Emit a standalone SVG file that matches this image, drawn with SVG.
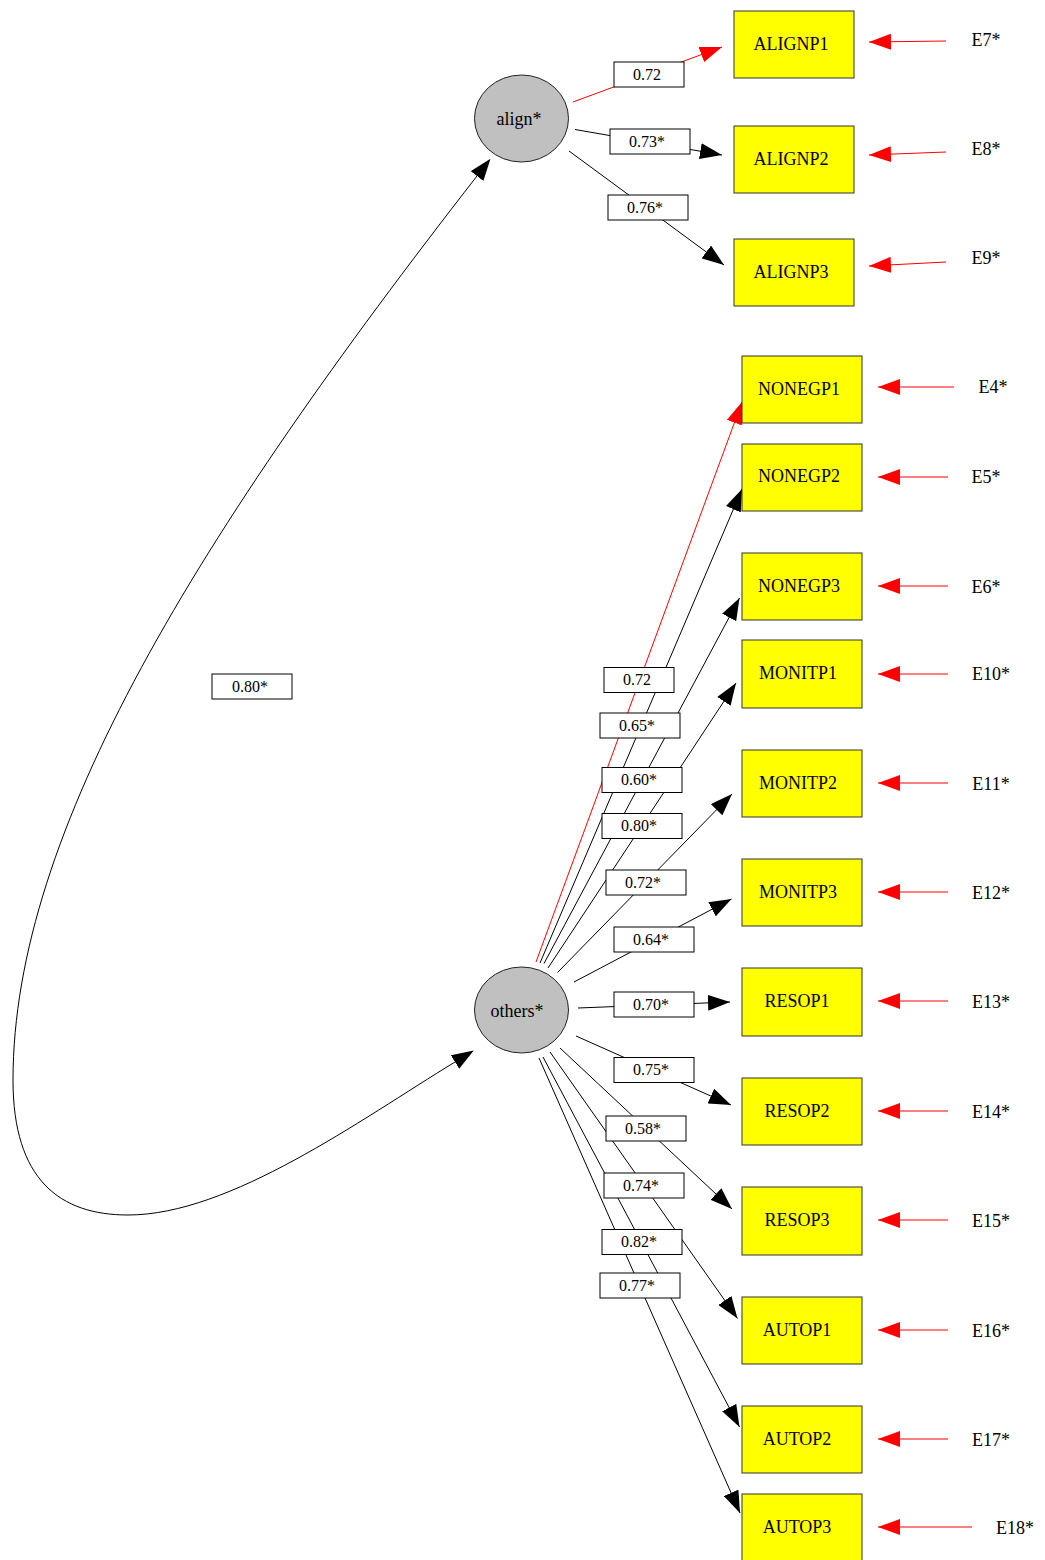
<svg xmlns="http://www.w3.org/2000/svg" width="1045" height="1560" viewBox="0 0 1045 1560">
<style>
.obs{fill:#ffff00;stroke:#333;stroke-width:1}
.lat{fill:#c0c0c0;stroke:#222;stroke-width:1}
.nt{font-family:"Liberation Serif","Times New Roman",serif;font-size:18px;fill:#000;text-anchor:middle;dominant-baseline:central}
.lb rect{fill:#fff;stroke:#000;stroke-width:1}
.lb text{font-family:"Liberation Serif","Times New Roman",serif;font-size:16px;fill:#000;text-anchor:middle;dominant-baseline:central}
.e{fill:none;stroke:#000;stroke-width:1}
.r{fill:none;stroke:#ff0000;stroke-width:1}
</style>
<defs>
<marker id="ak" markerWidth="22" markerHeight="16" refX="22" refY="8" orient="auto" markerUnits="userSpaceOnUse"><path d="M0,0 L22,8 L0,16 z" fill="#000"/></marker>
<marker id="ar" markerWidth="22" markerHeight="16" refX="22" refY="8" orient="auto" markerUnits="userSpaceOnUse"><path d="M0,0 L22,8 L0,16 z" fill="#ff0000"/></marker>
<marker id="ac" markerWidth="22" markerHeight="16" refX="0" refY="8" orient="auto-start-reverse" markerUnits="userSpaceOnUse"><path d="M0,0 L22,8 L0,16 z" fill="#000"/></marker>
</defs>
<g id="connectors">
<path class="e" d="M477,176 C201,531 13,830 13,1080 C13,1180 60,1215 128,1215 C230,1215 360,1120 455,1062" marker-start="url(#ac)" marker-end="url(#ac)"/>
<path class="r" d="M573,102 L722,47" marker-end="url(#ar)"/>
<path class="e" d="M575,129.5 L722,155" marker-end="url(#ak)"/>
<path class="e" d="M569,151 L724,265" marker-end="url(#ak)"/>
<path class="r" d="M536,962 L742,402" marker-end="url(#ar)"/>
<path class="e" d="M540,963 L742,489" marker-end="url(#ak)"/>
<path class="e" d="M544,963.5 L739.5,598" marker-end="url(#ak)"/>
<path class="e" d="M548,968 L736,683" marker-end="url(#ak)"/>
<path class="e" d="M557.5,972.5 L732,794" marker-end="url(#ak)"/>
<path class="e" d="M574,982 L731.5,899" marker-end="url(#ak)"/>
<path class="e" d="M578,1008 L730,1002" marker-end="url(#ak)"/>
<path class="e" d="M576,1036 L731,1105" marker-end="url(#ak)"/>
<path class="e" d="M560,1048 L732,1209" marker-end="url(#ak)"/>
<path class="e" d="M550,1052 L737.5,1318.5" marker-end="url(#ak)"/>
<path class="e" d="M543,1057 L739.5,1427" marker-end="url(#ak)"/>
<path class="e" d="M539,1058 L740,1513" marker-end="url(#ak)"/>
<path class="r" d="M946,41 L869,42" marker-end="url(#ar)"/>
<path class="r" d="M946,152 L869,155" marker-end="url(#ar)"/>
<path class="r" d="M946,262 L869,266" marker-end="url(#ar)"/>
<path class="r" d="M954,387 L878,387" marker-end="url(#ar)"/>
<path class="r" d="M948,477 L878,477" marker-end="url(#ar)"/>
<path class="r" d="M948,586 L878,586" marker-end="url(#ar)"/>
<path class="r" d="M948,674 L878,674" marker-end="url(#ar)"/>
<path class="r" d="M948,783 L878,783" marker-end="url(#ar)"/>
<path class="r" d="M948,892 L878,892" marker-end="url(#ar)"/>
<path class="r" d="M948,1001 L878,1001" marker-end="url(#ar)"/>
<path class="r" d="M948,1111 L878,1111" marker-end="url(#ar)"/>
<path class="r" d="M948,1220 L878,1220" marker-end="url(#ar)"/>
<path class="r" d="M948,1330 L878,1330" marker-end="url(#ar)"/>
<path class="r" d="M948,1439 L878,1439" marker-end="url(#ar)"/>
<path class="r" d="M972,1527 L878,1527" marker-end="url(#ar)"/>
</g>
<g id="labels">
<g class="lb"><rect x="212" y="674" width="80" height="25"/><text x="250" y="686">0.80*</text></g>
<g class="lb"><rect x="614" y="62" width="70" height="25"/><text x="647" y="74">0.72</text></g>
<g class="lb"><rect x="610" y="129" width="80" height="25"/><text x="647" y="141">0.73*</text></g>
<g class="lb"><rect x="608" y="195" width="80" height="25"/><text x="645" y="207">0.76*</text></g>
<g class="lb"><rect x="604" y="667.5" width="70" height="25"/><text x="637" y="679.5">0.72</text></g>
<g class="lb"><rect x="600" y="713" width="80" height="25"/><text x="637" y="725">0.65*</text></g>
<g class="lb"><rect x="602" y="767.5" width="80" height="25"/><text x="639" y="779.5">0.60*</text></g>
<g class="lb"><rect x="602" y="813.5" width="80" height="25"/><text x="639" y="825.5">0.80*</text></g>
<g class="lb"><rect x="606" y="870" width="80" height="25"/><text x="643" y="882">0.72*</text></g>
<g class="lb"><rect x="614" y="927" width="80" height="25"/><text x="651" y="939">0.64*</text></g>
<g class="lb"><rect x="614" y="992" width="80" height="25"/><text x="651" y="1004">0.70*</text></g>
<g class="lb"><rect x="614" y="1057.5" width="80" height="25"/><text x="651" y="1069.5">0.75*</text></g>
<g class="lb"><rect x="606" y="1116" width="80" height="25"/><text x="643" y="1128">0.58*</text></g>
<g class="lb"><rect x="604" y="1173" width="80" height="25"/><text x="641" y="1185">0.74*</text></g>
<g class="lb"><rect x="602" y="1229.5" width="80" height="25"/><text x="639" y="1241.5">0.82*</text></g>
<g class="lb"><rect x="600" y="1273" width="80" height="25"/><text x="637" y="1285">0.77*</text></g>
</g>
<g id="align"><ellipse class="lat" cx="521.5" cy="118.5" rx="47" ry="43.5"/><text class="nt" x="519" y="119">align*</text></g>
<g id="others"><ellipse class="lat" cx="521.5" cy="1010" rx="47" ry="43"/><text class="nt" x="517" y="1011">others*</text></g>
<g id="ALIGNP1"><rect class="obs" x="734" y="11" width="120" height="67"/><text class="nt" x="791" y="44">ALIGNP1</text></g>
<g id="ALIGNP2"><rect class="obs" x="734" y="126" width="120" height="67"/><text class="nt" x="791" y="159">ALIGNP2</text></g>
<g id="ALIGNP3"><rect class="obs" x="734" y="239" width="120" height="67"/><text class="nt" x="791" y="272">ALIGNP3</text></g>
<g id="NONEGP1"><rect class="obs" x="742" y="356" width="120" height="67"/><text class="nt" x="799" y="389">NONEGP1</text></g>
<g id="NONEGP2"><rect class="obs" x="742" y="444" width="120" height="67"/><text class="nt" x="799" y="476">NONEGP2</text></g>
<g id="NONEGP3"><rect class="obs" x="742" y="553" width="120" height="67"/><text class="nt" x="799" y="586">NONEGP3</text></g>
<g id="MONITP1"><rect class="obs" x="742" y="640" width="120" height="68"/><text class="nt" x="798" y="673">MONITP1</text></g>
<g id="MONITP2"><rect class="obs" x="742" y="750" width="120" height="67"/><text class="nt" x="798" y="783">MONITP2</text></g>
<g id="MONITP3"><rect class="obs" x="742" y="859" width="120" height="67"/><text class="nt" x="798" y="892">MONITP3</text></g>
<g id="RESOP1"><rect class="obs" x="742" y="968" width="120" height="68"/><text class="nt" x="797" y="1001">RESOP1</text></g>
<g id="RESOP2"><rect class="obs" x="742" y="1078" width="120" height="67"/><text class="nt" x="797" y="1111">RESOP2</text></g>
<g id="RESOP3"><rect class="obs" x="742" y="1187" width="120" height="68"/><text class="nt" x="797" y="1220">RESOP3</text></g>
<g id="AUTOP1"><rect class="obs" x="742" y="1297" width="120" height="67"/><text class="nt" x="797" y="1330">AUTOP1</text></g>
<g id="AUTOP2"><rect class="obs" x="742" y="1406" width="120" height="67"/><text class="nt" x="797" y="1439">AUTOP2</text></g>
<g id="AUTOP3"><rect class="obs" x="742" y="1494" width="120" height="67"/><text class="nt" x="797" y="1527">AUTOP3</text></g>
<g id="errors">
<text class="nt" x="986" y="40">E7*</text>
<text class="nt" x="986" y="149">E8*</text>
<text class="nt" x="986" y="258">E9*</text>
<text class="nt" x="993" y="387">E4*</text>
<text class="nt" x="986" y="477">E5*</text>
<text class="nt" x="986" y="587">E6*</text>
<text class="nt" x="991" y="674">E10*</text>
<text class="nt" x="991" y="784">E11*</text>
<text class="nt" x="991" y="893">E12*</text>
<text class="nt" x="991" y="1002">E13*</text>
<text class="nt" x="991" y="1112">E14*</text>
<text class="nt" x="991" y="1221">E15*</text>
<text class="nt" x="991" y="1331">E16*</text>
<text class="nt" x="991" y="1440">E17*</text>
<text class="nt" x="1015" y="1528">E18*</text>
</g>
</svg>
